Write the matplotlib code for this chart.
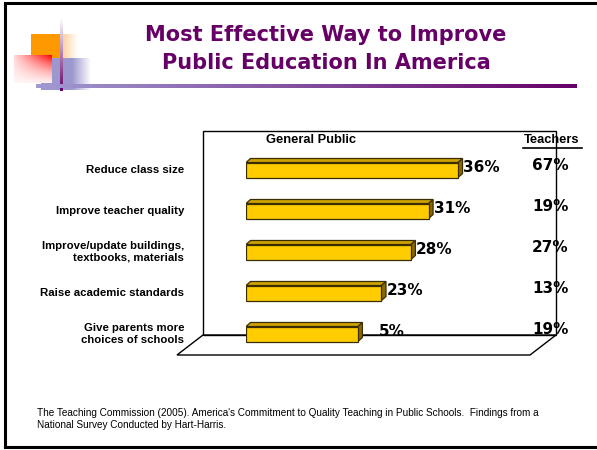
import numpy as np
import matplotlib
matplotlib.use("Agg")
import matplotlib.pyplot as plt
from matplotlib.patches import Polygon
from matplotlib.colors import LinearSegmentedColormap

# ---------------- data ----------------
categories = ["Reduce class size", "Improve teacher quality",
              "Improve/update buildings,\ntextbooks, materials",
              "Raise academic standards",
              "Give parents more\nchoices of schools"]
bar_lengths = [36, 31, 28, 23, 19]          # bar lengths as drawn
public_labels = ["36%", "31%", "28%", "23%", "5%"]
teacher_labels = ["67%", "19%", "27%", "13%", "19%"]
title_lines = ["Most Effective Way to Improve", "Public Education In America"]
source = ("The Teaching Commission (2005). America's Commitment to Quality Teaching in Public Schools.  Findings from a\n"
          "National Survey Conducted by Hart-Harris.")

W, H = 597, 450
fig = plt.figure(figsize=(W / 100, H / 100), dpi=100)
fig.patch.set_facecolor("white")

# background axes in pixel coordinates
bg = fig.add_axes([0, 0, 1, 1], zorder=0)
bg.axis("off")

PURPLE = "#660066"

# slide frame
bg.plot([5, 5], [3, 447], color="black", lw=2.2, solid_capstyle="butt")
bg.plot([5, W + 5], [3, 3], color="black", lw=2.2)
bg.plot([5, W + 5], [447, 447], color="black", lw=2.2)


def grad_rect(x0, x1, y0, y1, c0, c1, direction="h", z=1):
    cmap = LinearSegmentedColormap.from_list("g", [c0, c1])
    g = np.linspace(0, 1, 256)
    arr = g[None, :] if direction == "h" else g[:, None]
    bg.imshow(arr, cmap=cmap, extent=(x0, x1, y1, y0), aspect="auto",
              interpolation="bilinear", zorder=z)


# decorative squares
grad_rect(31, 60, 34, 58, "#FF9900", "#FF9900", z=1)
grad_rect(60, 78, 34, 58, "#FFC890", "#FFFFFF", z=1)
grad_rect(41, 72, 58, 90, "#9C98CE", "#9C98CE", z=2)
grad_rect(72, 91, 58, 90, "#9C98CE", "#FFFFFF", z=2)
# red square: red at top-right fading to white at bottom-left
xx, yy = np.meshgrid(np.linspace(0, 1, 64), np.linspace(0, 1, 64))
t = np.clip(xx * (1 - 0.75 * yy) + 0.0, 0, 1)
t = np.clip(0.15 + 0.85 * t, 0, 1) * (1 - 0.8 * yy)
red = np.dstack([np.ones_like(t), 1 - t, 1 - t])
bg.imshow(red, extent=(14, 52, 83, 55), aspect="auto", interpolation="bilinear", zorder=3)
# vertical thin line
grad_rect(60, 62.3, 18, 91, "#FFFFFF", "#660066", direction="v", z=4)
# horizontal gradient rule
grad_rect(36, 577, 85, 88.3, "#A09AD2", PURPLE, z=4)
bg.set_xlim(0, W)
bg.set_ylim(H, 0)

# title
for i, line in enumerate(title_lines):
    bg.text(326, 35 + 28 * i, line, ha="center", va="center", color=PURPLE,
            fontsize=15, fontweight="bold", family="DejaVu Sans", zorder=5)

# 3D chart walls
wall_kw = dict(fill=False, edgecolor="black", lw=1.0, zorder=2)
bg.add_patch(Polygon([(203, 131), (556, 131), (556, 335), (203, 335)], closed=True, **wall_kw))
bg.add_patch(Polygon([(203, 335), (556, 335), (530, 355), (177, 355)], closed=True, **wall_kw))

# headers
bg.text(311, 140, "General Public", ha="center", va="center", fontsize=9.3,
        fontweight="bold", family="Liberation Sans", zorder=5)
bg.text(552, 140, "Teachers", ha="center", va="center", fontsize=9.3,
        fontweight="bold", family="Liberation Sans", zorder=5)
bg.plot([523, 582], [147.5, 147.5], color="black", lw=1.2, zorder=5)

# source text
bg.text(37, 419, source, ha="left", va="center", fontsize=7.2,
        family="Liberation Sans", linespacing=1.3, zorder=5)

# ---------------- bar axes ----------------
PX_PER_PCT = 5.89
ROW_PX = 41
ax_left, ax_right, ax_top, ax_bot = 246, 556, 131, 355
first_center = 170
ax = fig.add_axes([ax_left / W, 1 - ax_bot / H, (ax_right - ax_left) / W, (ax_bot - ax_top) / H],
                  zorder=3)
ax.patch.set_alpha(0)
ax.axis("off")
ax.set_xlim(0, (ax_right - ax_left) / PX_PER_PCT)
ax.set_ylim((ax_bot - first_center) / ROW_PX, (ax_top - first_center) / ROW_PX)

bh = 15 / ROW_PX
dx = 4.5 / PX_PER_PCT
dy = 4.0 / ROW_PX
FRONT, TOP, SIDE, EDGE = "#FFCC00", "#CFA200", "#8A6A00", "#3A2E00"
y = np.arange(len(categories))
bars = ax.barh(y, bar_lengths, height=bh, color=FRONT, edgecolor=EDGE, lw=0.9, zorder=3)
pads = [0.6, 0.6, 0.6, 0.6, 16]
for yi, v, lab, pad, cat, tl in zip(y, bar_lengths, public_labels, pads, categories, teacher_labels):
    top, bot = yi - bh / 2, yi + bh / 2
    ax.add_patch(Polygon([(0, top), (v, top), (v + dx, top - dy), (dx, top - dy)], closed=True,
                         facecolor=TOP, edgecolor=EDGE, lw=0.9, zorder=2))
    ax.add_patch(Polygon([(v, top), (v + dx, top - dy), (v + dx, bot - dy), (v, bot)], closed=True,
                         facecolor=SIDE, edgecolor=EDGE, lw=0.9, zorder=2))
    ax.text(v + dx + pad / PX_PER_PCT, yi - 0.05, lab, ha="left", va="center", fontsize=11,
            fontweight="bold", family="DejaVu Sans", zorder=5, clip_on=False)
    ax.text((184 - ax_left) / PX_PER_PCT, yi, cat, ha="right", va="center", fontsize=8.2,
            fontweight="bold", family="Liberation Sans", linespacing=1.2, zorder=5, clip_on=False)
    ax.text((550 - ax_left) / PX_PER_PCT, yi - 0.12, tl, ha="center", va="center", fontsize=11,
            fontweight="bold", family="DejaVu Sans", zorder=5, clip_on=False)

fig.savefig("out.png", dpi=100)
